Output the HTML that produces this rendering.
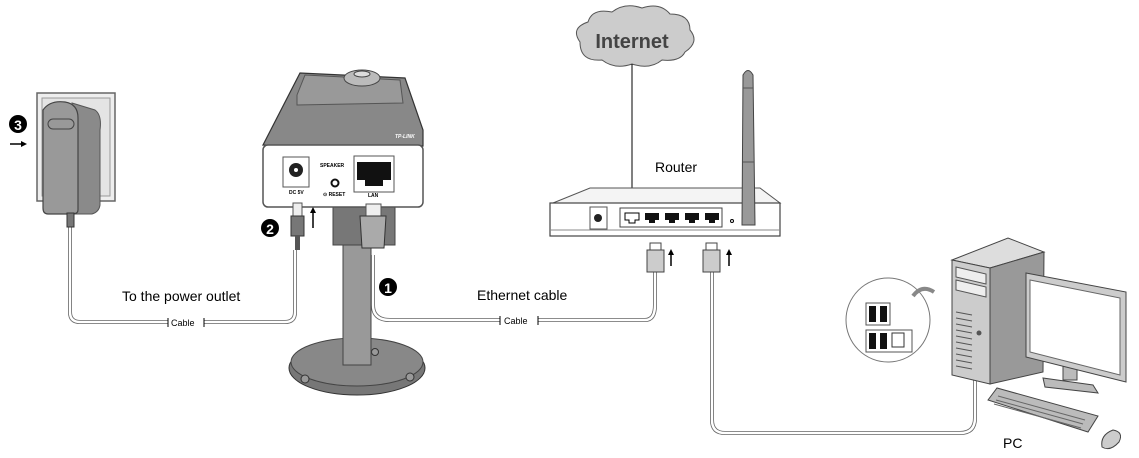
<!DOCTYPE html>
<html><head><meta charset="utf-8"><style>
html,body{margin:0;padding:0;background:#fff;}
svg{display:block;font-family:"Liberation Sans",sans-serif;}
</style></head><body>
<svg width="1139" height="458" viewBox="0 0 1139 458" xmlns="http://www.w3.org/2000/svg">
<defs>
<marker id="a" viewBox="0 0 10 10" refX="5" refY="5" markerWidth="4" markerHeight="4" orient="auto"><path d="M0,0L10,5L0,10z" fill="#000"/></marker>
</defs>
<g fill="none" stroke="#555" stroke-width="1">
<path d="M70,222 L70,312 Q70,322 80,322 L285,322 Q295,322 295,312 L295,250" stroke-width="4" stroke="#666"/>
<path d="M70,222 L70,312 Q70,322 80,322 L285,322 Q295,322 295,312 L295,250" stroke-width="2.4" stroke="#fff"/>
<path d="M373,255 L373,305 Q373,320 390,320 L645,320 Q655,320 655,305 L655,272" stroke-width="4" stroke="#666"/>
<path d="M373,255 L373,305 Q373,320 390,320 L645,320 Q655,320 655,305 L655,272" stroke-width="2.4" stroke="#fff"/>
<path d="M712,272 L712,420 Q712,433 725,433 L960,433 Q975,433 975,418 L975,378" stroke-width="4" stroke="#666"/>
<path d="M712,272 L712,420 Q712,433 725,433 L960,433 Q975,433 975,418 L975,378" stroke-width="2.4" stroke="#fff"/>
</g>
<g font-size="9" fill="#000">
<rect x="168" y="317" width="36" height="10" fill="#fff"/><text x="171" y="326">Cable</text>
<rect x="500" y="315" width="38" height="10" fill="#fff"/><text x="504" y="324">Cable</text>
</g>
<g stroke="#000" stroke-width="1"><line x1="168" y1="318" x2="168" y2="327"/><line x1="204" y1="318" x2="204" y2="327"/><line x1="500" y1="316" x2="500" y2="325"/><line x1="538" y1="316" x2="538" y2="325"/></g>

<!-- adapter -->
<rect x="37" y="93" width="78" height="108" fill="#eee" stroke="#666" stroke-width="1.5"/>
<rect x="42" y="98" width="68" height="98" fill="#e4e4e4" stroke="#999"/>
<path d="M72,103 L95,110 Q102,115 100,130 L100,205 Q99,212 92,214 L75,214z" fill="#8a8a8a" stroke="#555"/>
<path d="M43,110 Q50,100 65,102 Q78,104 78,118 L78,210 Q78,214 72,214 L48,214 Q43,214 43,208z" fill="#999" stroke="#444" stroke-width="1.2"/>
<rect x="48" y="119" width="26" height="10" rx="5" fill="#999" stroke="#444"/>
<rect x="67" y="213" width="7" height="14" fill="#777" stroke="#333"/>
<circle cx="18" cy="124" r="9" fill="#000"/><text x="18" y="130" font-size="14" font-weight="bold" fill="#fff" text-anchor="middle">3</text>
<line x1="10" y1="144" x2="24" y2="144" stroke="#000" stroke-width="1.5" marker-end="url(#a)"/>
<text x="122" y="301" font-size="14" fill="#000">To the power outlet</text>

<!-- camera -->
<ellipse cx="357" cy="368" rx="68" ry="27" fill="#777" stroke="#333"/>
<ellipse cx="357" cy="362" rx="66" ry="24" fill="#888" stroke="#444"/>
<circle cx="305" cy="379" r="4" fill="#999" stroke="#333"/><circle cx="410" cy="377" r="4" fill="#999" stroke="#333"/><circle cx="375" cy="352" r="3.5" fill="#999" stroke="#333"/>
<rect x="343" y="240" width="28" height="125" fill="#999" stroke="#444"/>
<rect x="333" y="205" width="62" height="40" fill="#777" stroke="#444"/>
<path d="M263,145 L300,73 L405,78 L423,130 L423,146z" fill="#888" stroke="#333" stroke-width="1.2"/>
<path d="M297,95 L305,75 L400,80 L403,103 L297,105z" fill="#999" stroke="#555"/>
<ellipse cx="362" cy="78" rx="18" ry="8" fill="#bbb" stroke="#444"/><ellipse cx="362" cy="74" rx="8" ry="3" fill="#ddd" stroke="#444"/>
<text x="395" y="138" font-size="5" font-style="italic" fill="#fff" font-weight="bold">TP-LINK</text>
<rect x="263" y="145" width="160" height="62" rx="5" fill="#fff" stroke="#555" stroke-width="1.5"/>
<rect x="283" y="157" width="26" height="30" fill="#fff" stroke="#555"/>
<circle cx="296" cy="170" r="7" fill="#222"/><circle cx="296" cy="170" r="2" fill="#fff"/>
<rect x="354" y="156" width="40" height="36" fill="#fff" stroke="#555"/>
<path d="M357,162 L391,162 L391,180 L383,180 L383,186 L365,186 L365,180 L357,180z" fill="#111"/>
<circle cx="335" cy="183" r="3.5" fill="#fff" stroke="#111" stroke-width="2"/>
<g font-size="5" font-weight="bold" fill="#000"><text x="320" y="167">SPEAKER</text><text x="289" y="194">DC 5V</text><text x="323" y="196">⊙ RESET</text><text x="368" y="197">LAN</text></g>
<rect x="293" y="203" width="9" height="14" fill="#eee" stroke="#555"/><rect x="291" y="216" width="13" height="20" fill="#777" stroke="#333"/>
<rect x="295" y="235" width="5" height="15" fill="#555"/>
<rect x="366" y="204" width="15" height="12" fill="#eee" stroke="#555"/>
<path d="M360,216 L386,216 L384,248 L362,248z" fill="#aaa" stroke="#333"/>
<line x1="313" y1="228" x2="313" y2="210" stroke="#000" stroke-width="1.5" marker-end="url(#a)"/>
<circle cx="270" cy="228" r="9" fill="#000"/><text x="270" y="234" font-size="14" font-weight="bold" fill="#fff" text-anchor="middle">2</text>
<circle cx="388" cy="287" r="9" fill="#000"/><text x="388" y="293" font-size="14" font-weight="bold" fill="#fff" text-anchor="middle">1</text>
<text x="477" y="300" font-size="14" fill="#000">Ethernet cable</text>

<!-- internet -->
<path d="M580,42 Q570,28 588,22 Q592,8 612,12 Q625,2 642,8 Q660,2 670,14 Q690,14 690,30 Q700,42 685,52 Q680,62 662,60 Q650,70 632,64 Q615,70 602,60 Q580,62 580,42z" fill="#ccc" stroke="#555"/>
<text x="632" y="48" font-size="20" font-weight="bold" fill="#444" text-anchor="middle">Internet</text>
<line x1="632" y1="64" x2="632" y2="216" stroke="#000" stroke-width="1"/>
<text x="655" y="172" font-size="14" fill="#000">Router</text>

<!-- router -->
<path d="M553,203 L590,188 L760,188 L780,203z" fill="#f4f4f4" stroke="#555"/>
<rect x="550" y="203" width="230" height="33" fill="#fff" stroke="#444" stroke-width="1.2"/>
<line x1="550" y1="230" x2="780" y2="230" stroke="#888"/>
<rect x="590" y="207" width="17" height="22" fill="#fff" stroke="#555"/><circle cx="598" cy="218" r="4" fill="#222"/>
<rect x="620" y="208" width="102" height="19" fill="#fff" stroke="#444"/>
<path d="M625,213h14v7h-4v3h-6v-3h-4z" fill="#fff" stroke="#000"/>
<path d="M645,213h14v7h-4v3h-6v-3h-4z" fill="#111"/><path d="M665,213h14v7h-4v3h-6v-3h-4z" fill="#111"/><path d="M685,213h14v7h-4v3h-6v-3h-4z" fill="#111"/><path d="M705,213h14v7h-4v3h-6v-3h-4z" fill="#111"/>
<circle cx="732" cy="221" r="1.5" fill="none" stroke="#000"/>
<path d="M743,75 Q748,66 753,75 L755,225 L742,225z" fill="#999" stroke="#444"/>
<line x1="743" y1="88" x2="753" y2="88" stroke="#555"/><line x1="743" y1="162" x2="754" y2="162" stroke="#555"/>
<rect x="650" y="243" width="11" height="8" fill="#fff" stroke="#444"/><rect x="647" y="250" width="17" height="22" fill="#ccc" stroke="#444"/>
<rect x="706" y="243" width="11" height="8" fill="#fff" stroke="#444"/><rect x="703" y="250" width="17" height="22" fill="#ccc" stroke="#444"/>
<line x1="671" y1="266" x2="671" y2="252" stroke="#000" stroke-width="1.5" marker-end="url(#a)"/>
<line x1="729" y1="266" x2="729" y2="252" stroke="#000" stroke-width="1.5" marker-end="url(#a)"/>

<!-- PC -->
<path d="M988,400 L997,388 L1098,416 L1088,432z" fill="#bbb" stroke="#444"/>
<g stroke="#666"><line x1="998" y1="396" x2="1085" y2="420"/><line x1="996" y1="400" x2="1083" y2="424"/><line x1="994" y1="404" x2="1081" y2="428"/></g>
<path d="M1102,447 Q1100,435 1113,430 Q1124,432 1119,442 Q1110,452 1102,447z" fill="#ccc" stroke="#444"/>
<path d="M952,260 L1008,238 L1044,252 L990,268z" fill="#ddd" stroke="#444"/>
<path d="M990,268 L1044,252 L1043,372 L990,384z" fill="#999" stroke="#444"/>
<path d="M952,260 L990,268 L990,384 L952,375z" fill="#ccc" stroke="#444"/>
<path d="M956,267 L986,274 L986,284 L956,277z" fill="#eee" stroke="#555"/><path d="M956,280 L986,287 L986,297 L956,290z" fill="#eee" stroke="#555"/>
<g stroke="#555"><line x1="956" y1="312" x2="972" y2="315"/><line x1="956" y1="318" x2="972" y2="321"/><line x1="956" y1="324" x2="972" y2="327"/><line x1="956" y1="330" x2="972" y2="333"/><line x1="956" y1="336" x2="972" y2="339"/><line x1="956" y1="342" x2="972" y2="345"/><line x1="956" y1="348" x2="972" y2="351"/><line x1="956" y1="354" x2="972" y2="357"/><line x1="956" y1="360" x2="972" y2="363"/><line x1="956" y1="366" x2="972" y2="369"/></g>
<circle cx="979" cy="333" r="2.5" fill="#555"/>
<rect x="1063" y="360" width="14" height="20" fill="#bbb" stroke="#444"/>
<path d="M1043,378 L1093,385 L1098,393 L1045,387z" fill="#bbb" stroke="#444"/>
<path d="M1026,273 L1126,292 L1126,382 L1026,357z" fill="#ccc" stroke="#444"/>
<path d="M1030,280 L1120,298 L1120,375 L1030,352z" fill="#fff" stroke="#666"/>
<circle cx="888" cy="320" r="42" fill="#fff" stroke="#777"/>
<rect x="866" y="303" width="24" height="22" fill="#fff" stroke="#555"/><rect x="869" y="306" width="7" height="16" fill="#111"/><rect x="880" y="306" width="7" height="16" fill="#111"/>
<rect x="866" y="330" width="46" height="22" fill="#fff" stroke="#555"/><rect x="869" y="333" width="7" height="16" fill="#111"/><rect x="880" y="333" width="7" height="16" fill="#111"/>
<rect x="892" y="333" width="12" height="14" fill="#fff" stroke="#333"/>
<path d="M913,296 Q922,284 934,292" stroke="#888" stroke-width="4" fill="none"/>
<text x="1003" y="448" font-size="14" fill="#000">PC</text>
</svg>
</body></html>
